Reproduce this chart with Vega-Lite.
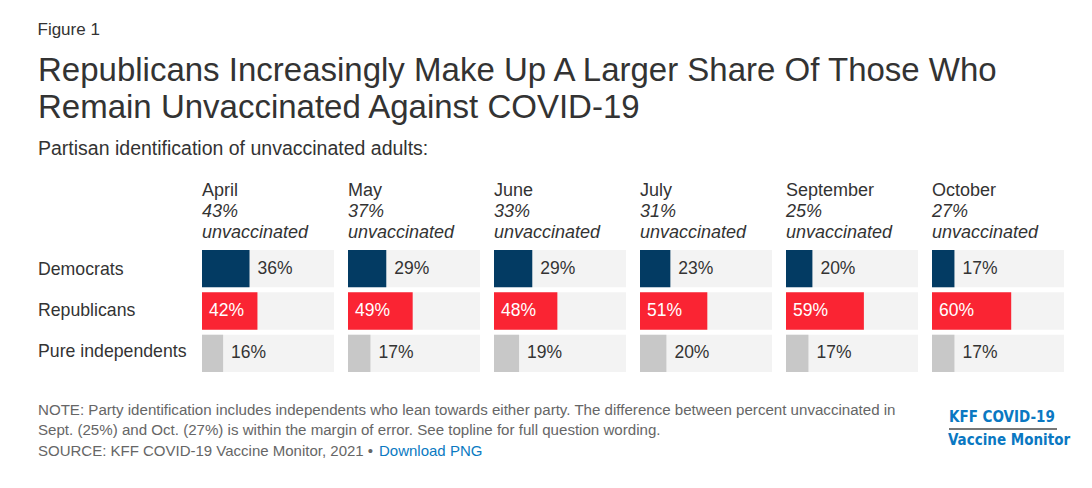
{
  "$schema": "https://vega.github.io/schema/vega-lite/v6.json",
  "background": "white",
  "padding": {"left": 37, "top": 20, "right": 0, "bottom": 0},
  "config": {
    "font": "Liberation Sans",
    "view": {"stroke": null},
    "title": {"color": "#333333", "fontWeight": "normal", "anchor": "start", "subtitleColor": "#333333"}
  },
  "datasets": {
    "vax": [
      {"month": "April", "party": "Democrats", "value": 0.36},
      {"month": "April", "party": "Republicans", "value": 0.42},
      {"month": "April", "party": "Pure independents", "value": 0.16},
      {"month": "May", "party": "Democrats", "value": 0.29},
      {"month": "May", "party": "Republicans", "value": 0.49},
      {"month": "May", "party": "Pure independents", "value": 0.17},
      {"month": "June", "party": "Democrats", "value": 0.29},
      {"month": "June", "party": "Republicans", "value": 0.48},
      {"month": "June", "party": "Pure independents", "value": 0.19},
      {"month": "July", "party": "Democrats", "value": 0.23},
      {"month": "July", "party": "Republicans", "value": 0.51},
      {"month": "July", "party": "Pure independents", "value": 0.20},
      {"month": "September", "party": "Democrats", "value": 0.20},
      {"month": "September", "party": "Republicans", "value": 0.59},
      {"month": "September", "party": "Pure independents", "value": 0.17},
      {"month": "October", "party": "Democrats", "value": 0.17},
      {"month": "October", "party": "Republicans", "value": 0.60},
      {"month": "October", "party": "Pure independents", "value": 0.17}
    ]
  },
  "title": {"text": "Figure 1", "fontSize": 17, "offset": 16},
  "spacing": 31,
  "vconcat": [
    {
      "title": {
        "text": ["Republicans Increasingly Make Up A Larger Share Of Those Who", "Remain Unvaccinated Against COVID-19"],
        "fontSize": 33, "lineHeight": 37,
        "subtitle": "Partisan identification of unvaccinated adults:",
        "subtitleFontSize": 19.5, "subtitlePadding": 15, "offset": 24
      },
      "spacing": 14,
      "hconcat": [
        {
          "data": {"name": "vax"}, "width": 150, "height": 122,
          "transform": [{"filter": "datum.month === 'April'"}],
          "mark": {"type": "text", "align": "left", "fontSize": 17.7, "color": "#333333"},
          "encoding": {
            "y": {"field": "party", "type": "nominal", "sort": ["Democrats", "Republicans", "Pure independents"], "scale": {"paddingInner": 0.12, "paddingOuter": 0}, "axis": null},
            "x": {"datum": 0, "type": "quantitative", "scale": {"domain": [0, 1]}, "axis": null},
            "text": {"field": "party"}
          }
        },
        {
          "data": {"name": "vax"}, "width": 132, "height": 122,
          "title": {"text": "April", "subtitle": ["43%", "unvaccinated"], "fontSize": 18, "subtitleFontSize": 18, "subtitleFontStyle": "italic", "subtitleLineHeight": 21, "subtitlePadding": 3, "offset": 8, "frame": "group"},
          "transform": [{"filter": "datum.month === 'April'"}],
          "encoding": {"y": {"field": "party", "type": "nominal", "sort": ["Democrats", "Republicans", "Pure independents"], "scale": {"paddingInner": 0.12, "paddingOuter": 0}, "axis": null}},
          "layer": [
            {"mark": {"type": "bar", "color": "#f3f3f3"}, "encoding": {"x": {"datum": 1, "type": "quantitative", "scale": {"domain": [0, 1]}, "axis": null}}},
            {"mark": "bar", "encoding": {"x": {"field": "value", "type": "quantitative"}, "color": {"field": "party", "type": "nominal", "scale": {"domain": ["Democrats", "Republicans", "Pure independents"], "range": ["#033b63", "#fa2433", "#c8c8c8"]}, "legend": null}}},
            {"transform": [{"filter": "datum.party !== 'Republicans'"}], "mark": {"type": "text", "align": "left", "dx": 8, "fontSize": 17.5, "color": "#333333"}, "encoding": {"x": {"field": "value", "type": "quantitative"}, "text": {"field": "value", "type": "quantitative", "format": ".0%"}}},
            {"transform": [{"filter": "datum.party === 'Republicans'"}], "mark": {"type": "text", "align": "left", "dx": 7, "fontSize": 17.5, "color": "white"}, "encoding": {"x": {"datum": 0, "type": "quantitative"}, "text": {"field": "value", "type": "quantitative", "format": ".0%"}}}
          ]
        },
        {
          "data": {"name": "vax"}, "width": 132, "height": 122,
          "title": {"text": "May", "subtitle": ["37%", "unvaccinated"], "fontSize": 18, "subtitleFontSize": 18, "subtitleFontStyle": "italic", "subtitleLineHeight": 21, "subtitlePadding": 3, "offset": 8, "frame": "group"},
          "transform": [{"filter": "datum.month === 'May'"}],
          "encoding": {"y": {"field": "party", "type": "nominal", "sort": ["Democrats", "Republicans", "Pure independents"], "scale": {"paddingInner": 0.12, "paddingOuter": 0}, "axis": null}},
          "layer": [
            {"mark": {"type": "bar", "color": "#f3f3f3"}, "encoding": {"x": {"datum": 1, "type": "quantitative", "scale": {"domain": [0, 1]}, "axis": null}}},
            {"mark": "bar", "encoding": {"x": {"field": "value", "type": "quantitative"}, "color": {"field": "party", "type": "nominal", "scale": {"domain": ["Democrats", "Republicans", "Pure independents"], "range": ["#033b63", "#fa2433", "#c8c8c8"]}, "legend": null}}},
            {"transform": [{"filter": "datum.party !== 'Republicans'"}], "mark": {"type": "text", "align": "left", "dx": 8, "fontSize": 17.5, "color": "#333333"}, "encoding": {"x": {"field": "value", "type": "quantitative"}, "text": {"field": "value", "type": "quantitative", "format": ".0%"}}},
            {"transform": [{"filter": "datum.party === 'Republicans'"}], "mark": {"type": "text", "align": "left", "dx": 7, "fontSize": 17.5, "color": "white"}, "encoding": {"x": {"datum": 0, "type": "quantitative"}, "text": {"field": "value", "type": "quantitative", "format": ".0%"}}}
          ]
        },
        {
          "data": {"name": "vax"}, "width": 132, "height": 122,
          "title": {"text": "June", "subtitle": ["33%", "unvaccinated"], "fontSize": 18, "subtitleFontSize": 18, "subtitleFontStyle": "italic", "subtitleLineHeight": 21, "subtitlePadding": 3, "offset": 8, "frame": "group"},
          "transform": [{"filter": "datum.month === 'June'"}],
          "encoding": {"y": {"field": "party", "type": "nominal", "sort": ["Democrats", "Republicans", "Pure independents"], "scale": {"paddingInner": 0.12, "paddingOuter": 0}, "axis": null}},
          "layer": [
            {"mark": {"type": "bar", "color": "#f3f3f3"}, "encoding": {"x": {"datum": 1, "type": "quantitative", "scale": {"domain": [0, 1]}, "axis": null}}},
            {"mark": "bar", "encoding": {"x": {"field": "value", "type": "quantitative"}, "color": {"field": "party", "type": "nominal", "scale": {"domain": ["Democrats", "Republicans", "Pure independents"], "range": ["#033b63", "#fa2433", "#c8c8c8"]}, "legend": null}}},
            {"transform": [{"filter": "datum.party !== 'Republicans'"}], "mark": {"type": "text", "align": "left", "dx": 8, "fontSize": 17.5, "color": "#333333"}, "encoding": {"x": {"field": "value", "type": "quantitative"}, "text": {"field": "value", "type": "quantitative", "format": ".0%"}}},
            {"transform": [{"filter": "datum.party === 'Republicans'"}], "mark": {"type": "text", "align": "left", "dx": 7, "fontSize": 17.5, "color": "white"}, "encoding": {"x": {"datum": 0, "type": "quantitative"}, "text": {"field": "value", "type": "quantitative", "format": ".0%"}}}
          ]
        },
        {
          "data": {"name": "vax"}, "width": 132, "height": 122,
          "title": {"text": "July", "subtitle": ["31%", "unvaccinated"], "fontSize": 18, "subtitleFontSize": 18, "subtitleFontStyle": "italic", "subtitleLineHeight": 21, "subtitlePadding": 3, "offset": 8, "frame": "group"},
          "transform": [{"filter": "datum.month === 'July'"}],
          "encoding": {"y": {"field": "party", "type": "nominal", "sort": ["Democrats", "Republicans", "Pure independents"], "scale": {"paddingInner": 0.12, "paddingOuter": 0}, "axis": null}},
          "layer": [
            {"mark": {"type": "bar", "color": "#f3f3f3"}, "encoding": {"x": {"datum": 1, "type": "quantitative", "scale": {"domain": [0, 1]}, "axis": null}}},
            {"mark": "bar", "encoding": {"x": {"field": "value", "type": "quantitative"}, "color": {"field": "party", "type": "nominal", "scale": {"domain": ["Democrats", "Republicans", "Pure independents"], "range": ["#033b63", "#fa2433", "#c8c8c8"]}, "legend": null}}},
            {"transform": [{"filter": "datum.party !== 'Republicans'"}], "mark": {"type": "text", "align": "left", "dx": 8, "fontSize": 17.5, "color": "#333333"}, "encoding": {"x": {"field": "value", "type": "quantitative"}, "text": {"field": "value", "type": "quantitative", "format": ".0%"}}},
            {"transform": [{"filter": "datum.party === 'Republicans'"}], "mark": {"type": "text", "align": "left", "dx": 7, "fontSize": 17.5, "color": "white"}, "encoding": {"x": {"datum": 0, "type": "quantitative"}, "text": {"field": "value", "type": "quantitative", "format": ".0%"}}}
          ]
        },
        {
          "data": {"name": "vax"}, "width": 132, "height": 122,
          "title": {"text": "September", "subtitle": ["25%", "unvaccinated"], "fontSize": 18, "subtitleFontSize": 18, "subtitleFontStyle": "italic", "subtitleLineHeight": 21, "subtitlePadding": 3, "offset": 8, "frame": "group"},
          "transform": [{"filter": "datum.month === 'September'"}],
          "encoding": {"y": {"field": "party", "type": "nominal", "sort": ["Democrats", "Republicans", "Pure independents"], "scale": {"paddingInner": 0.12, "paddingOuter": 0}, "axis": null}},
          "layer": [
            {"mark": {"type": "bar", "color": "#f3f3f3"}, "encoding": {"x": {"datum": 1, "type": "quantitative", "scale": {"domain": [0, 1]}, "axis": null}}},
            {"mark": "bar", "encoding": {"x": {"field": "value", "type": "quantitative"}, "color": {"field": "party", "type": "nominal", "scale": {"domain": ["Democrats", "Republicans", "Pure independents"], "range": ["#033b63", "#fa2433", "#c8c8c8"]}, "legend": null}}},
            {"transform": [{"filter": "datum.party !== 'Republicans'"}], "mark": {"type": "text", "align": "left", "dx": 8, "fontSize": 17.5, "color": "#333333"}, "encoding": {"x": {"field": "value", "type": "quantitative"}, "text": {"field": "value", "type": "quantitative", "format": ".0%"}}},
            {"transform": [{"filter": "datum.party === 'Republicans'"}], "mark": {"type": "text", "align": "left", "dx": 7, "fontSize": 17.5, "color": "white"}, "encoding": {"x": {"datum": 0, "type": "quantitative"}, "text": {"field": "value", "type": "quantitative", "format": ".0%"}}}
          ]
        },
        {
          "data": {"name": "vax"}, "width": 132, "height": 122,
          "title": {"text": "October", "subtitle": ["27%", "unvaccinated"], "fontSize": 18, "subtitleFontSize": 18, "subtitleFontStyle": "italic", "subtitleLineHeight": 21, "subtitlePadding": 3, "offset": 8, "frame": "group"},
          "transform": [{"filter": "datum.month === 'October'"}],
          "encoding": {"y": {"field": "party", "type": "nominal", "sort": ["Democrats", "Republicans", "Pure independents"], "scale": {"paddingInner": 0.12, "paddingOuter": 0}, "axis": null}},
          "layer": [
            {"mark": {"type": "bar", "color": "#f3f3f3"}, "encoding": {"x": {"datum": 1, "type": "quantitative", "scale": {"domain": [0, 1]}, "axis": null}}},
            {"mark": "bar", "encoding": {"x": {"field": "value", "type": "quantitative"}, "color": {"field": "party", "type": "nominal", "scale": {"domain": ["Democrats", "Republicans", "Pure independents"], "range": ["#033b63", "#fa2433", "#c8c8c8"]}, "legend": null}}},
            {"transform": [{"filter": "datum.party !== 'Republicans'"}], "mark": {"type": "text", "align": "left", "dx": 8, "fontSize": 17.5, "color": "#333333"}, "encoding": {"x": {"field": "value", "type": "quantitative"}, "text": {"field": "value", "type": "quantitative", "format": ".0%"}}},
            {"transform": [{"filter": "datum.party === 'Republicans'"}], "mark": {"type": "text", "align": "left", "dx": 7, "fontSize": 17.5, "color": "white"}, "encoding": {"x": {"datum": 0, "type": "quantitative"}, "text": {"field": "value", "type": "quantitative", "format": ".0%"}}}
          ]
        }
      ]
    },
    {
      "spacing": 10,
      "hconcat": [
        {
          "spacing": 3,
          "vconcat": [
            {
              "data": {"values": [{}]}, "width": 900, "height": 1,
              "title": {"text": "NOTE: Party identification includes independents who lean towards either party. The difference between percent unvaccinated in", "fontSize": 15.1, "color": "#666666", "offset": 0, "frame": "group"},
              "mark": {"type": "rule", "opacity": 0}, "encoding": {}
            },
            {
              "data": {"values": [{}]}, "width": 900, "height": 1,
              "title": {"text": "Sept. (25%) and Oct. (27%) is within the margin of error. See topline for full question wording.", "fontSize": 15.1, "color": "#666666", "offset": 0, "frame": "group"},
              "mark": {"type": "rule", "opacity": 0}, "encoding": {}
            },
            {
              "spacing": 4,
              "hconcat": [
                {
                  "data": {"values": [{}]}, "width": 1, "height": 1,
                  "title": {"text": "SOURCE: KFF COVID-19 Vaccine Monitor, 2021 •", "fontSize": 15, "color": "#666666", "offset": 0, "frame": "group"},
                  "mark": {"type": "rule", "opacity": 0}, "encoding": {}
                },
                {
                  "data": {"values": [{}]}, "width": 1, "height": 1,
                  "title": {"text": "Download PNG", "fontSize": 15, "color": "#0a7ac2", "offset": 0, "frame": "group"},
                  "mark": {"type": "rule", "opacity": 0}, "encoding": {}
                }
              ]
            }
          ]
        },
        {
          "title": {"text": "Vaccine Monitor", "orient": "bottom", "fontSize": 15, "fontWeight": "bold", "color": "#0a78c2", "font": "DejaVu Sans Condensed, Liberation Sans Narrow, DejaVu Sans", "offset": 3},
          "vconcat": [
            {
              "data": {"values": [{}]}, "width": 108, "height": 10,
              "title": {"text": "KFF COVID-19", "fontSize": 15, "fontWeight": "bold", "color": "#0a78c2", "font": "DejaVu Sans Condensed, Liberation Sans Narrow, DejaVu Sans", "offset": 0, "dy": 6, "frame": "group"},
              "mark": {"type": "rule", "color": "#777777", "strokeWidth": 2},
              "encoding": {
                "x": {"datum": 0, "type": "quantitative", "scale": {"domain": [0, 1]}, "axis": null},
                "x2": {"datum": 1},
                "y": {"datum": 0, "type": "quantitative", "scale": {"domain": [0, 1]}, "axis": null}
              }
            }
          ]
        }
      ]
    }
  ]
}
